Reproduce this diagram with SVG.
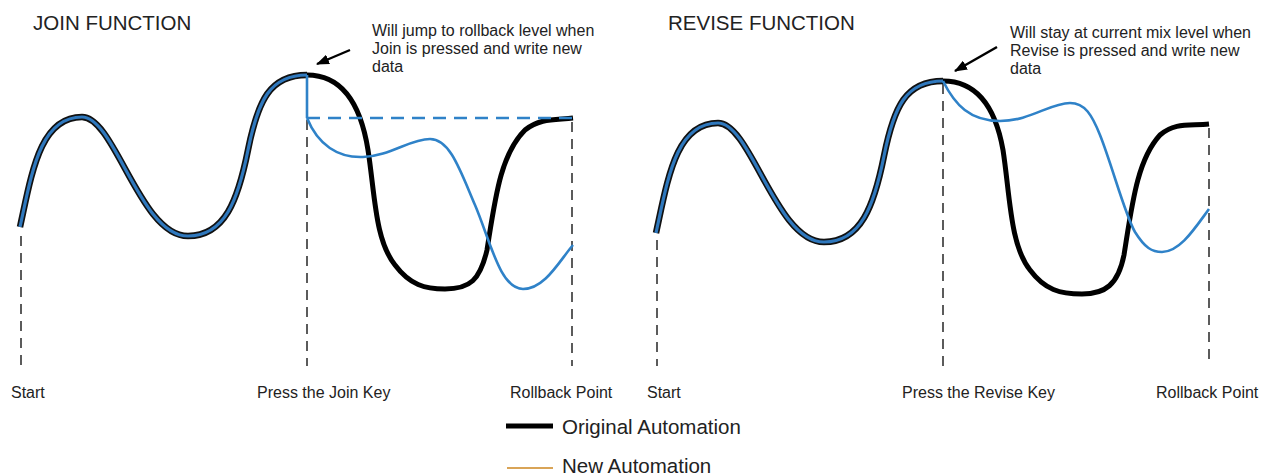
<svg xmlns="http://www.w3.org/2000/svg" width="1265" height="476" viewBox="0 0 1265 476">
<style>
text{font-family:"Liberation Sans",Arial,sans-serif;fill:#222}
.title{font-size:20.5px}
.note{font-size:16px}
.lbl{font-size:16px}
.leg{font-size:20.5px}
.guide{stroke:#333;stroke-width:1.6;stroke-dasharray:10 7;fill:none}
.waveOut{stroke:#111;stroke-width:6.5;fill:none;stroke-linecap:butt}
.waveIn{stroke:#2f78bd;stroke-width:3.2;fill:none}
.orig{stroke:#000;stroke-width:5;fill:none;stroke-linecap:butt}
.newa{stroke:#2f82c8;stroke-width:2.6;fill:none}
.jump{stroke:#2f82c8;stroke-width:2.6;fill:none;stroke-dasharray:13 8}
.arrow{stroke:#000;stroke-width:2.4;fill:none}
</style>
<defs>
<marker id="ah" markerWidth="13" markerHeight="10" refX="12" refY="5" orient="auto" markerUnits="userSpaceOnUse">
<path d="M0,0 L13,5 L0,10 z" fill="#000"/>
</marker>
<path id="wave" d="M20,227 C32,172 40,117 82,117 C115,117 140,236 188,236 C225,236 238,200 248,150 C258,100 270,75 307,75"/>
</defs>

<g id="join-panel">
<text class="title" x="33" y="30">JOIN FUNCTION</text>
<g id="join-guides">
<line class="guide" x1="21" y1="236" x2="21" y2="366"/>
<line class="guide" x1="307" y1="120" x2="307" y2="366"/>
<line class="guide" x1="572" y1="122" x2="572" y2="366"/>
</g>
<g id="join-wave">
<use href="#wave" class="waveOut"/>
<use href="#wave" class="waveIn"/>
</g>
<path id="join-original" class="orig" d="M307,75 C340,75 360,100 368,150 C375,195 375,240 395,265 C410,285 425,289 445,289 C470,289 480,280 487,250 C495,200 500,155 525,130 C540,118 555,120 573,118"/>
<g id="join-new">
<path class="newa" d="M307,75 L307,118"/>
<line class="jump" x1="307" y1="118" x2="573" y2="118"/>
<path class="newa" d="M307,118 C318,145 338,158 363,157 C390,156 410,139 430,139 C450,139 460,170 475,205 C490,240 500,289 523,289 C545,289 560,260 573,245"/>
</g>
<g id="join-note">
<path class="arrow" d="M350,50 L317,64" marker-end="url(#ah)"/>
<text class="note" x="372" y="36">Will jump to rollback level when</text>
<text class="note" x="372" y="54">Join is pressed and write new</text>
<text class="note" x="372" y="72">data</text>
</g>
<text class="lbl" x="11" y="398">Start</text>
<text class="lbl" x="257" y="398">Press the Join Key</text>
<text class="lbl" x="510" y="398">Rollback Point</text>
</g>

<g id="revise-panel">
<text class="title" x="668" y="30">REVISE FUNCTION</text>
<g id="revise-guides">
<line class="guide" x1="657" y1="240" x2="657" y2="366"/>
<line class="guide" x1="943" y1="84" x2="943" y2="366"/>
<line class="guide" x1="1209" y1="128" x2="1209" y2="366"/>
</g>
<g id="revise-wave" transform="translate(636,6)">
<use href="#wave" class="waveOut"/>
<use href="#wave" class="waveIn"/>
</g>
<path id="revise-original" class="orig" d="M943,81 C975,81 995,105 1003,150 C1010,195 1010,245 1030,270 C1045,290 1060,294 1082,294 C1105,294 1118,285 1124,255 C1132,205 1137,160 1160,135 C1175,122 1190,126 1209,124"/>
<path id="revise-new" class="newa" d="M943,81 C955,105 970,121 1000,121 C1030,121 1050,103 1070,103 C1085,103 1092,115 1100,135 C1112,165 1125,215 1135,232 C1145,248 1152,252 1162,252 C1180,252 1195,228 1209,209"/>
<g id="revise-note">
<path class="arrow" d="M997,47 L955,71" marker-end="url(#ah)"/>
<text class="note" x="1010" y="38">Will stay at current mix level when</text>
<text class="note" x="1010" y="56">Revise is pressed and write new</text>
<text class="note" x="1010" y="74">data</text>
</g>
<text class="lbl" x="647" y="398">Start</text>
<text class="lbl" x="902" y="398">Press the Revise Key</text>
<text class="lbl" x="1156" y="398">Rollback Point</text>
</g>

<g id="legend">
<line x1="506" y1="426" x2="553" y2="426" stroke="#000" stroke-width="5"/>
<text class="leg" x="562" y="434">Original Automation</text>
<line x1="507" y1="468" x2="553" y2="468" stroke="#d9a457" stroke-width="2"/>
<text class="leg" x="562" y="473">New Automation</text>
</g>
</svg>
